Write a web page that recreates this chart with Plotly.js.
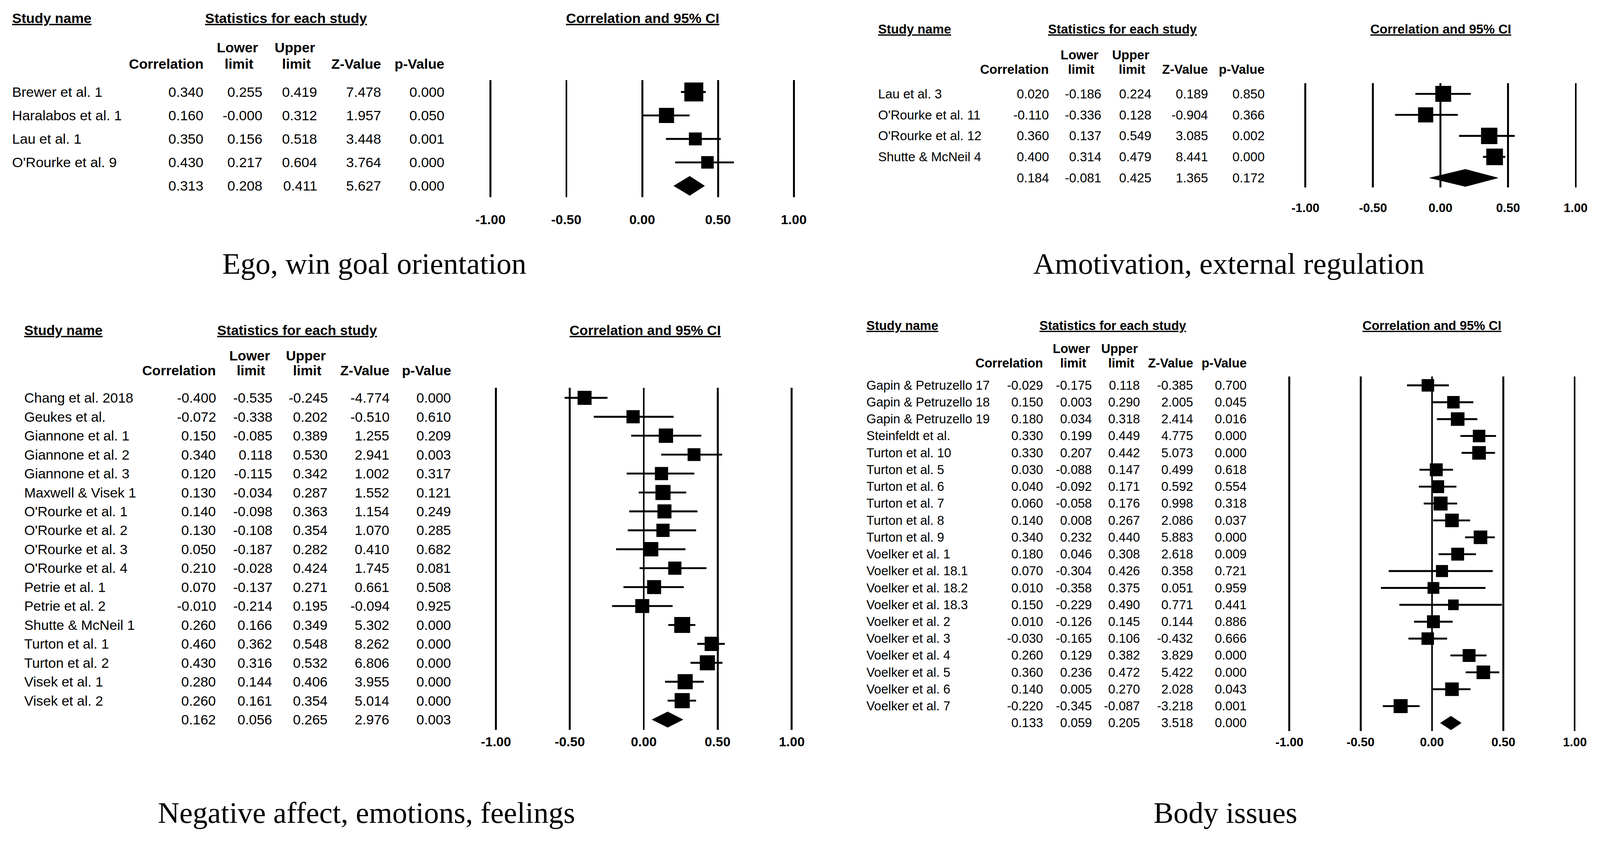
<!DOCTYPE html>
<html><head><meta charset="utf-8">
<script src="https://cdn.plot.ly/plotly-3.0.1.min.js"></script>
<style>html,body{margin:0;padding:0;background:#fff;overflow:hidden}</style>
</head><body><div id="chart"></div><script>
// ---------------- data ----------------
const tickVals = [-1, -0.5, 0, 0.5, 1];
const tickLabels = ['-1.00', '-0.50', '0.00', '0.50', '1.00'];
const captions = ['Ego, win goal orientation', 'Amotivation, external regulation',
                  'Negative affect, emotions, feelings', 'Body issues'];

// Panel 1 (last entry = summary)
const studies1 = ['Brewer et al. 1', 'Haralabos et al. 1', 'Lau et al. 1', "O'Rourke et al. 9", ''];
const corr1  = [0.340, 0.160, 0.350, 0.430, 0.313];
const lower1 = [0.255, -0.000, 0.156, 0.217, 0.208];
const upper1 = [0.419, 0.312, 0.518, 0.604, 0.411];
const zval1  = [7.478, 1.957, 3.448, 3.764, 5.627];
const pval1  = [0.000, 0.050, 0.001, 0.000, 0.000];
const weight1 = [1.00, 0.80, 0.68, 0.66];

// Panel 2
const studies2 = ['Lau et al. 3', "O'Rourke et al. 11", "O'Rourke et al. 12", 'Shutte & McNeil 4', ''];
const corr2  = [0.020, -0.110, 0.360, 0.400, 0.184];
const lower2 = [-0.186, -0.336, 0.137, 0.314, -0.081];
const upper2 = [0.224, 0.128, 0.549, 0.479, 0.425];
const zval2  = [0.189, -0.904, 3.085, 8.441, 1.365];
const pval2  = [0.850, 0.366, 0.002, 0.000, 0.172];
const weight2 = [0.95, 0.91, 0.98, 1.00];

// Panel 3
const studies3 = ['Chang et al. 2018', 'Geukes et al.', 'Giannone et al. 1', 'Giannone et al. 2',
  'Giannone et al. 3', 'Maxwell & Visek 1', "O'Rourke et al. 1", "O'Rourke et al. 2",
  "O'Rourke et al. 3", "O'Rourke et al. 4", 'Petrie et al. 1', 'Petrie et al. 2',
  'Shutte & McNeil 1', 'Turton et al. 1', 'Turton et al. 2', 'Visek et al. 1', 'Visek et al. 2', ''];
const corr3  = [-0.400, -0.072, 0.150, 0.340, 0.120, 0.130, 0.140, 0.130, 0.050, 0.210, 0.070, -0.010, 0.260, 0.460, 0.430, 0.280, 0.260, 0.162];
const lower3 = [-0.535, -0.338, -0.085, 0.118, -0.115, -0.034, -0.098, -0.108, -0.187, -0.028, -0.137, -0.214, 0.166, 0.362, 0.316, 0.144, 0.161, 0.056];
const upper3 = [-0.245, 0.202, 0.389, 0.530, 0.342, 0.287, 0.363, 0.354, 0.282, 0.424, 0.271, 0.195, 0.349, 0.548, 0.532, 0.406, 0.354, 0.265];
const zval3  = [-4.774, -0.510, 1.255, 2.941, 1.002, 1.552, 1.154, 1.070, 0.410, 1.745, 0.661, -0.094, 5.302, 8.262, 6.806, 3.955, 5.014, 2.976];
const pval3  = [0.000, 0.610, 0.209, 0.003, 0.317, 0.121, 0.249, 0.285, 0.682, 0.081, 0.508, 0.925, 0.000, 0.000, 0.000, 0.000, 0.000, 0.003];
const weight3 = [0.88, 0.83, 0.90, 0.81, 0.83, 0.95, 0.88, 0.83, 0.90, 0.83, 0.88, 0.88, 1.00, 0.90, 0.95, 0.95, 0.95];

// Panel 4
const studies4 = ['Gapin & Petruzello 17', 'Gapin & Petruzello 18', 'Gapin & Petruzello 19', 'Steinfeldt et al.',
  'Turton et al. 10', 'Turton et al. 5', 'Turton et al. 6', 'Turton et al. 7', 'Turton et al. 8', 'Turton et al. 9',
  'Voelker et al. 1', 'Voelker et al. 18.1', 'Voelker et al. 18.2', 'Voelker et al. 18.3', 'Voelker et al. 2',
  'Voelker et al. 3', 'Voelker et al. 4', 'Voelker et al. 5', 'Voelker et al. 6', 'Voelker et al. 7', ''];
const corr4  = [-0.029, 0.150, 0.180, 0.330, 0.330, 0.030, 0.040, 0.060, 0.140, 0.340, 0.180, 0.070, 0.010, 0.150, 0.010, -0.030, 0.260, 0.360, 0.140, -0.220, 0.133];
const lower4 = [-0.175, 0.003, 0.034, 0.199, 0.207, -0.088, -0.092, -0.058, 0.008, 0.232, 0.046, -0.304, -0.358, -0.229, -0.126, -0.165, 0.129, 0.236, 0.005, -0.345, 0.059];
const upper4 = [0.118, 0.290, 0.318, 0.449, 0.442, 0.147, 0.171, 0.176, 0.267, 0.440, 0.308, 0.426, 0.375, 0.490, 0.145, 0.106, 0.382, 0.472, 0.270, -0.087, 0.205];
const zval4  = [-0.385, 2.005, 2.414, 4.775, 5.073, 0.499, 0.592, 0.998, 2.086, 5.883, 2.618, 0.358, 0.051, 0.771, 0.144, -0.432, 3.829, 5.422, 2.028, -3.218, 3.518];
const pval4  = [0.700, 0.045, 0.016, 0.000, 0.000, 0.618, 0.554, 0.318, 0.037, 0.000, 0.009, 0.721, 0.959, 0.441, 0.886, 0.666, 0.000, 0.000, 0.043, 0.001, 0.000];
const weight4 = [0.89, 0.89, 0.97, 0.89, 0.97, 0.92, 0.92, 1.00, 0.97, 0.97, 0.92, 0.86, 0.84, 0.76, 0.92, 0.89, 0.92, 0.97, 0.97, 1.00];

// ---------------- layout geometry (reference pixels) ----------------
const W = 4224, H = 2215;
const vw = window.innerWidth || W, vh = window.innerHeight || H;
const S = Math.min(vw / W, vh / H, 1.5);
const SANS = 'Liberation Sans, Arial, sans-serif';
const SERIF = 'Liberation Serif, Times New Roman, serif';

const panels = [
  {studies: studies1, corr: corr1, lower: lower1, upper: upper1, z: zval1, p: pval1, w: weight1,
   g: {xm1: 1295, xp1: 2096, row0: 243, step: 62, top: 211, bot: 521, fs: 37, tfs: 35, tickY: 580,
       nameX: 32, colR: [537, 693, 837, 1006, 1174], lowX: 627, upX: 779, headY: 49, h1: 126, h2: 169,
       statsX: 755, ciX: 1697, box: 50, capX: 988, capY: 697}},
  {studies: studies2, corr: corr2, lower: lower2, upper: upper2, z: zval2, p: pval2, w: weight2,
   g: {xm1: 3446, xp1: 4160, row0: 248, step: 55.5, top: 220, bot: 495, fs: 34, tfs: 32.5, tickY: 549,
       nameX: 2318, colR: [2769, 2907, 3039, 3189, 3338], lowX: 2850, upX: 2985, headY: 77, h1: 145, h2: 183,
       statsX: 2964, ciX: 3804, box: 44, capX: 3244, capY: 697}},
  {studies: studies3, corr: corr3, lower: lower3, upper: upper3, z: zval3, p: pval3, w: weight3,
   g: {xm1: 1309, xp1: 2090, row0: 1051, step: 50, top: 1024, bot: 1928, fs: 36.5, tfs: 35, tickY: 1959,
       nameX: 64, colR: [570, 719, 865, 1028, 1191], lowX: 659, upX: 807, headY: 872, h1: 939, h2: 979,
       statsX: 784, ciX: 1703, box: 42, capX: 967, capY: 2147}},
  {studies: studies4, corr: corr4, lower: lower4, upper: upper4, z: zval4, p: pval4, w: weight4,
   g: {xm1: 3404, xp1: 4157, row0: 1018, step: 44.6, top: 995, bot: 1931, fs: 33.5, tfs: 32.5, tickY: 1960,
       nameX: 2287, colR: [2753, 2882, 3009, 3149, 3291], lowX: 2829, upX: 2956, headY: 860, h1: 921, h2: 959,
       statsX: 2937, ciX: 3780, box: 37, capX: 3235, capY: 2147}}
];

function fmt(v) {
  return (v < 0 || Object.is(v, -0)) ? '-' + Math.abs(v).toFixed(3) : v.toFixed(3);
}
const px = x => x / W;
const py = y => 1 - y / H;

const traces = [];
const annotations = [];
const layout = {
  width: Math.floor(W * S), height: Math.floor(H * S), margin: {l: 0, r: 0, t: 0, b: 0},
  paper_bgcolor: '#fff', plot_bgcolor: 'rgba(0,0,0,0)', showlegend: false,
  annotations: annotations
};

panels.forEach((P, k) => {
  const g = P.g;
  const sfx = k === 0 ? '' : String(k + 1);
  const xa = 'x' + sfx, ya = 'y' + sfx;
  const n = P.studies.length - 1; // index of summary row
  const unit = (g.xp1 - g.xm1) / 2;
  const left = g.xm1 - 0.1 * unit, right = g.xp1 + 0.1 * unit;
  const yTop = -(g.row0 - g.top) / g.step;
  const yBot = (g.bot - g.row0) / g.step;

  layout['xaxis' + sfx] = {
    domain: [px(left), px(right)], range: [-1.1, 1.1], anchor: ya,
    tickmode: 'array', tickvals: tickVals, showticklabels: false,
    showgrid: true, gridcolor: '#000', gridwidth: 5 * S, zeroline: false, showline: false,
    ticks: '', fixedrange: true
  };
  layout['yaxis' + sfx] = {
    domain: [py(g.bot), py(g.top)], range: [yBot, yTop], anchor: xa,
    showgrid: false, zeroline: false, showline: false, showticklabels: false, ticks: '', fixedrange: true
  };

  // CI whiskers
  const cx = [], cy = [];
  for (let i = 0; i < n; i++) { cx.push(P.lower[i], P.upper[i], null); cy.push(i, i, null); }
  traces.push({type: 'scatter', mode: 'lines', x: cx, y: cy, xaxis: xa, yaxis: ya,
               line: {color: '#000', width: 5 * S}, hoverinfo: 'skip'});
  // study squares
  traces.push({type: 'scatter', mode: 'markers', x: P.corr.slice(0, n), y: P.corr.slice(0, n).map((_, i) => i),
               xaxis: xa, yaxis: ya, hoverinfo: 'skip',
               marker: {symbol: 'square', color: '#000', opacity: 1, size: P.w.map(w => w * g.box * S), line: {width: 0}}});
  // summary diamond
  const hd = 0.41;
  traces.push({type: 'scatter', mode: 'lines', fill: 'toself', fillcolor: '#000',
               x: [P.lower[n], P.corr[n], P.upper[n], P.corr[n], P.lower[n]],
               y: [n, n - hd, n, n + hd, n], xaxis: xa, yaxis: ya,
               line: {color: '#000', width: 1}, hoverinfo: 'skip'});

  const base = {showarrow: false, yanchor: 'middle', borderpad: 0, borderwidth: 0};
  const hf = (extra) => Object.assign({family: SANS, size: g.fs * S, color: '#000', weight: 700}, extra || {});
  // tick labels placed on the x scale
  tickVals.forEach((tv, i) => {
    annotations.push(Object.assign({}, base, {text: tickLabels[i], xref: xa, yref: 'paper', x: tv, y: py(g.tickY), xanchor: 'center',
      font: {family: SANS, size: g.tfs * S, color: '#000', weight: 700}}));
  });
  // top headers (underlined)
  annotations.push(Object.assign({}, base, {text: 'Study name', xref: 'paper', yref: 'paper', x: px(g.nameX), y: py(g.headY), xanchor: 'left', font: hf({lineposition: 'under'})}));
  annotations.push(Object.assign({}, base, {text: 'Statistics for each study', xref: 'paper', yref: 'paper', x: px(g.statsX), y: py(g.headY), xanchor: 'center', font: hf({lineposition: 'under'})}));
  annotations.push(Object.assign({}, base, {text: 'Correlation and 95% CI', xref: 'paper', yref: 'paper', x: px(g.ciX), y: py(g.headY), xanchor: 'center', font: hf({lineposition: 'under'})}));
  // column headers
  annotations.push(Object.assign({}, base, {text: 'Lower', xref: 'paper', yref: 'paper', x: px(g.lowX), y: py(g.h1), xanchor: 'center', font: hf()}));
  annotations.push(Object.assign({}, base, {text: 'Upper', xref: 'paper', yref: 'paper', x: px(g.upX), y: py(g.h1), xanchor: 'center', font: hf()}));
  annotations.push(Object.assign({}, base, {text: 'Correlation', xref: 'paper', yref: 'paper', x: px(g.colR[0]), y: py(g.h2), xanchor: 'right', font: hf()}));
  annotations.push(Object.assign({}, base, {text: 'limit', xref: 'paper', yref: 'paper', x: px(g.lowX + 4), y: py(g.h2), xanchor: 'center', font: hf()}));
  annotations.push(Object.assign({}, base, {text: 'limit', xref: 'paper', yref: 'paper', x: px(g.upX + 4), y: py(g.h2), xanchor: 'center', font: hf()}));
  annotations.push(Object.assign({}, base, {text: 'Z-Value', xref: 'paper', yref: 'paper', x: px(g.colR[3]), y: py(g.h2), xanchor: 'right', font: hf()}));
  annotations.push(Object.assign({}, base, {text: 'p-Value', xref: 'paper', yref: 'paper', x: px(g.colR[4]), y: py(g.h2), xanchor: 'right', font: hf()}));

  // table rows
  const vf = {family: SANS, size: g.fs * S, color: '#000'};
  P.studies.forEach((name, i) => {
    if (name) annotations.push(Object.assign({}, base, {text: name, xref: 'paper', yref: ya, x: px(g.nameX), y: i, xanchor: 'left', font: vf}));
    [P.corr, P.lower, P.upper, P.z, P.p].forEach((col, c) => {
      annotations.push(Object.assign({}, base, {text: fmt(col[i]), xref: 'paper', yref: ya, x: px(g.colR[c]), y: i, xanchor: 'right', font: vf}));
    });
  });

  // caption
  annotations.push(Object.assign({}, base, {text: captions[k], xref: 'paper', yref: 'paper', x: px(g.capX), y: py(g.capY), xanchor: 'center', font: {family: SERIF, size: 79 * S, color: '#000'}}));
});

Plotly.newPlot('chart', traces, layout, {displayModeBar: false, staticPlot: true});
</script></body></html>
